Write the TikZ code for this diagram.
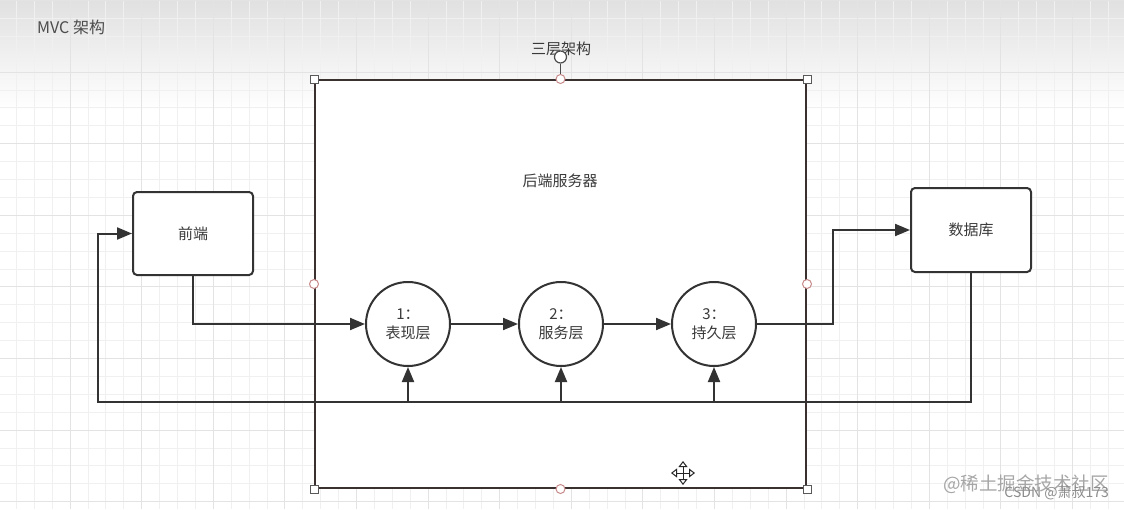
\documentclass[tikz,border=0pt]{standalone}
\usepackage{fontspec}
\setmainfont{Noto Sans CJK SC}
\usetikzlibrary{arrows.meta}
\definecolor{ink}{HTML}{333333}
\definecolor{txt}{HTML}{3A3A3A}
\definecolor{frame}{HTML}{3A3030}
\definecolor{hpink}{HTML}{C88A8A}
\tikzset{
  minorgrid/.style={draw=black!6, line width=0.8pt},
  majorgrid/.style={draw=black!11, line width=1pt},
  box/.style={draw=ink, line width=2pt, fill=white, rounded corners=4pt, minimum width=120pt, minimum height=83pt, inner sep=0pt, text=txt, font=\fontsize{15}{19}\selectfont},
  layer/.style={draw=ink, line width=2pt, fill=white, circle, minimum size=84pt, inner sep=0pt, align=center, text=txt, font=\fontsize{15}{19}\selectfont},
  arr/.style={draw=ink, line width=2pt, -{Triangle[length=15pt,width=12pt]}},
  hsq/.style={draw=black!65, fill=white, line width=1pt, minimum size=8pt, inner sep=0pt},
  hcirc/.style={draw=hpink, fill=white, line width=1pt, circle, minimum size=9pt, inner sep=0pt},
  lbl/.style={text=txt, font=\fontsize{15}{18}\selectfont, inner sep=0pt}
}
\begin{document}
\begin{tikzpicture}[x=1pt,y=-1pt]
\useasboundingbox (0,0) rectangle (1124,509);
\fill[white] (0,0) rectangle (1124,509);
\shade[top color=black!12, bottom color=white] (0,0) rectangle (1124,110);
% grid
\foreach \i in {0,...,63} \draw[minorgrid] ({-1.6+\i*17.9},0) -- ({-1.6+\i*17.9},509);
\foreach \j in {0,...,29} \draw[minorgrid] (0,{0.4+\j*17.9}) -- (1124,{0.4+\j*17.9});
\foreach \i in {0,...,15} \draw[majorgrid] ({70+\i*71.6},0) -- ({70+\i*71.6},509);
\foreach \j in {0,...,7} \draw[majorgrid] (0,{0.4+\j*71.6}) -- (1124,{0.4+\j*71.6});

% title
\node[lbl, anchor=west, text=black!70, font=\fontsize{16}{18}\selectfont] (title) at (37,27) {MVC 架构};

% big server frame
\node[draw=frame, line width=2pt, fill=white, minimum width=491pt, minimum height=408pt, inner sep=0pt] (srv) at (560.5,284) {};
\node[lbl] (grp) at (561,49) {三层架构};
\node[lbl] (srvlbl) at (560,181) {后端服务器};

% boxes
\node[box] (fe) at (193,233.5) {前端};
\node[box, minimum height=84pt] (db) at (971,230) {数据库};

% layers
\node[layer] (l1) at (408,324) {1：\\表现层};
\node[layer] (l2) at (561,324) {2：\\服务层};
\node[layer] (l3) at (714,324) {3：\\持久层};

% connectors
\coordinate (bus) at (98,402);
\coordinate (jog) at (833,324);
\draw[arr] (fe.south) |- (l1.west);
\draw[arr] (l1.east) -- (l2.west);
\draw[arr] (l2.east) -- (l3.west);
\draw[arr] (l3.east) -- (jog) |- (db.west);
\draw[arr] (db.south) |- (bus) |- (fe.west);
\draw[arr] (l1.south |- bus) -- (l1.south);
\draw[arr] (l2.south |- bus) -- (l2.south);
\draw[arr] (l3.south |- bus) -- (l3.south);

% selection handles
\node[hsq] (h1) at (srv.north west) {};
\node[hsq] (h2) at (srv.north east) {};
\node[hsq] (h3) at (srv.south west) {};
\node[hsq] (h4) at (srv.south east) {};
\node[hcirc] (m1) at (srv.north) {};
\node[hcirc] (m2) at (srv.south) {};
\node[hcirc] (m3) at (srv.west) {};
\node[hcirc] (m4) at (srv.east) {};
\node[draw=black!70, fill=white, line width=1.2pt, circle, minimum size=12pt, inner sep=0pt] (rot) at (560.5,57) {};
\draw[black!70, line width=1.2pt] (rot) -- (m1);

% move cursor
\coordinate (mv) at (683,473);
\foreach \a in {0,90,180,270}
  \draw[black!85, line width=1pt, -{Triangle[open,length=6pt,width=9pt]}] (mv) -- ++(\a:12pt);

% watermark
\node[anchor=east, text=black!35, font=\fontsize{18.5}{19}\selectfont, inner sep=0pt] (wm1) at (1109,484) {@稀土掘金技术社区};
\node[anchor=east, text=black!45, font=\fontsize{14}{15}\selectfont, inner sep=0pt] (wm2) at (1109,493) {CSDN @萧叔173};
\end{tikzpicture}
\end{document}
